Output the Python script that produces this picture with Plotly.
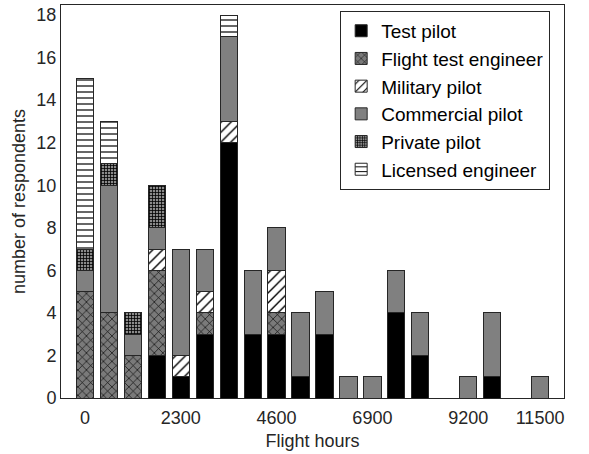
import plotly.graph_objects as go

# Bin positions (bar index) and tick labels
bins = [1, 2, 3, 4, 5, 6, 7, 8, 9, 10, 11, 12, 13, 14, 15, 16, 17, 18, 19, 20]
tick_positions = [1, 5, 9, 13, 17, 20]
tick_labels = ["0", "2300", "4600", "6900", "9200", "11500"]

# Stacked counts per category (bottom to top)
test_pilot        = [0, 0, 0, 2, 1, 3, 12, 3, 3, 1, 3, 0, 0, 4, 2, 0, 0, 1, 0, 0]
flight_test_eng   = [5, 4, 2, 4, 0, 1, 0, 0, 1, 0, 0, 0, 0, 0, 0, 0, 0, 0, 0, 0]
military_pilot    = [0, 0, 0, 1, 1, 1, 1, 0, 2, 0, 0, 0, 0, 0, 0, 0, 0, 0, 0, 0]
commercial_pilot  = [1, 6, 1, 1, 5, 2, 4, 3, 2, 3, 2, 1, 1, 2, 2, 0, 1, 3, 0, 1]
private_pilot     = [1, 1, 1, 2, 0, 0, 0, 0, 0, 0, 0, 0, 0, 0, 0, 0, 0, 0, 0, 0]
licensed_engineer = [8, 2, 0, 0, 0, 0, 1, 0, 0, 0, 0, 0, 0, 0, 0, 0, 0, 0, 0, 0]

series = [
    ("Test pilot", test_pilot, dict(color="#000000")),
    ("Flight test engineer", flight_test_eng,
     dict(color="#808080", pattern=dict(shape="x", bgcolor="#7a7a7a", fgcolor="#000000",
                                        size=6, solidity=0.2, fillmode="replace"))),
    ("Military pilot", military_pilot,
     dict(color="#ffffff", pattern=dict(shape="/", bgcolor="#ffffff", fgcolor="#000000",
                                        size=7, solidity=0.2, fillmode="replace"))),
    ("Commercial pilot", commercial_pilot, dict(color="#808080")),
    ("Private pilot", private_pilot,
     dict(color="#808080", pattern=dict(shape="+", bgcolor="#8a8a8a", fgcolor="#000000",
                                        size=3, solidity=0.45, fillmode="replace"))),
    ("Licensed engineer", licensed_engineer,
     dict(color="#ffffff", pattern=dict(shape="-", bgcolor="#ffffff", fgcolor="#000000",
                                        size=6, solidity=0.2, fillmode="replace"))),
]

fig = go.Figure()
for name, vals, mk in series:
    mk = dict(mk)
    mk["line"] = dict(color="#262626", width=1)
    fig.add_trace(go.Bar(x=bins, y=vals, name=name, marker=mk, width=0.72))

font_family = "Liberation Sans, Arial, sans-serif"
fig.update_layout(
    barmode="stack",
    width=589, height=454,
    margin=dict(l=61, r=25, t=5, b=56),
    paper_bgcolor="white", plot_bgcolor="white",
    font=dict(family=font_family, size=17, color="#262626"),
    showlegend=True,
    legend=dict(x=0.555, y=0.985, xanchor="left", yanchor="top",
                bordercolor="#262626", borderwidth=1, bgcolor="white",
                font=dict(size=19, color="#000000"), tracegroupgap=0,
                traceorder="normal"),
    xaxis=dict(range=[0, 21], tickvals=tick_positions, ticktext=tick_labels,
               showgrid=False, zeroline=False, showline=True, mirror=True,
               linecolor="#262626", linewidth=1, ticks="",
               tickfont=dict(size=18), ticklabelstandoff=3,
               title=dict(text="Flight hours", font=dict(size=18), standoff=7)),
    yaxis=dict(range=[0, 18.47], tickvals=[0, 2, 4, 6, 8, 10, 12, 14, 16, 18],
               showgrid=False, zeroline=False, showline=True, mirror=True,
               linecolor="#262626", linewidth=1, ticks="",
               tickfont=dict(size=18),
               title=dict(text="number of respondents", font=dict(size=18), standoff=6)),
)

fig.write_html("out.html", config={"displayModeBar": False},
               post_script="document.body.style.margin='0';")
